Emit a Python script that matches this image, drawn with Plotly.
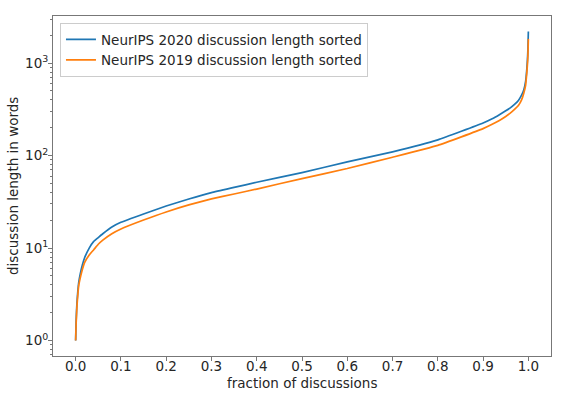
import plotly.graph_objects as go

# fraction of discussions (x) and sorted discussion length (y)
frac_2020 = [0.0, 0.001, 0.002, 0.003, 0.005, 0.007, 0.01, 0.015, 0.02, 0.03, 0.04, 0.05, 0.06,
             0.08, 0.1, 0.15, 0.2, 0.25, 0.3, 0.35, 0.4, 0.5, 0.6, 0.7, 0.8, 0.9, 0.92, 0.936,
             0.95, 0.96, 0.97, 0.978, 0.985, 0.99, 0.994, 0.9965, 0.998, 0.999, 1.0]
len_2020 = [1.0, 1.6, 2.1, 2.6, 3.5, 4.3, 5.2, 6.6, 7.9, 10.0, 11.8, 13.0, 14.3,
            16.9, 19.0, 23.4, 28.5, 34.0, 39.8, 45.3, 51.5, 65.5, 85.5, 110, 148, 225, 250, 277,
            305, 328, 360, 395, 450, 517, 640, 850, 1100, 1400, 2200]

frac_2019 = [0.0, 0.001, 0.002, 0.003, 0.005, 0.007, 0.01, 0.015, 0.02, 0.03, 0.04, 0.05, 0.06,
             0.08, 0.1, 0.15, 0.2, 0.25, 0.3, 0.35, 0.4, 0.5, 0.6, 0.7, 0.8, 0.9, 0.92, 0.936,
             0.95, 0.96, 0.97, 0.978, 0.985, 0.99, 0.994, 0.9965, 0.998, 0.999, 1.0]
len_2019 = [1.0, 1.5, 1.9, 2.4, 3.2, 4.0, 4.7, 5.9, 7.0, 8.4, 9.6, 11.0, 12.2,
            14.3, 16.1, 20.1, 24.6, 29.3, 34.0, 38.5, 43.5, 56.5, 72.5, 96, 129, 196, 218, 240,
            265, 288, 318, 348, 400, 476, 580, 780, 980, 1200, 1830]

x_ticks = [0.0, 0.1, 0.2, 0.3, 0.4, 0.5, 0.6, 0.7, 0.8, 0.9, 1.0]
x_tick_labels = ["0.0", "0.1", "0.2", "0.3", "0.4", "0.5", "0.6", "0.7", "0.8", "0.9", "1.0"]
y_ticks = [1, 10, 100, 1000]
y_tick_labels = ["10<sup>0</sup>", "10<sup>1</sup>", "10<sup>2</sup>", "10<sup>3</sup>"]
x_title = "fraction of discussions"
y_title = "discussion length in words"

font = "DejaVu Sans"
axis_color = "#777777"
text_color = "#262626"

fig = go.Figure()
fig.add_trace(go.Scatter(x=frac_2020, y=len_2020, mode="lines", line_shape="spline",
                         line_smoothing=0.4,
                         name="NeurIPS 2020 discussion length sorted",
                         line=dict(color="#1f77b4", width=1.7)))
fig.add_trace(go.Scatter(x=frac_2019, y=len_2019, mode="lines", line_shape="spline",
                         line_smoothing=0.4,
                         name="NeurIPS 2019 discussion length sorted",
                         line=dict(color="#ff7f0e", width=1.7)))

fig.update_layout(
    width=576, height=399,
    margin=dict(l=53, r=25, t=16, b=43),
    paper_bgcolor="white", plot_bgcolor="white",
    font=dict(family=font, size=13.5, color=text_color),
    showlegend=True,
    legend=dict(x=0.014, y=0.979, xanchor="left", yanchor="top",
                bgcolor="rgba(255,255,255,0.8)", bordercolor="#cccccc", borderwidth=1,
                font=dict(family=font, size=13.5, color=text_color),
                tracegroupgap=0, itemwidth=30),
    annotations=[
        dict(text=x_title, xref="paper", yref="paper", x=0.5, y=0, yshift=-27,
             xanchor="center", yanchor="middle", showarrow=False,
             font=dict(family=font, size=13.5, color=text_color)),
        dict(text=y_title, xref="paper", yref="paper", x=0, y=0.5, xshift=-40,
             xanchor="center", yanchor="middle", textangle=-90, showarrow=False,
             font=dict(family=font, size=13.5, color=text_color)),
    ],
)
fig.update_xaxes(
    range=[-0.05, 1.05], tickvals=x_ticks, ticktext=x_tick_labels,
    showgrid=False, zeroline=False, showline=True, mirror=True, automargin=False,
    linecolor=axis_color, linewidth=1, ticks="outside", ticklen=4, tickcolor=axis_color,
    tickfont=dict(size=13.5), ticklabelstandoff=-6,
)
fig.update_yaxes(
    type="log", range=[-0.167, 3.51], tickvals=y_ticks, ticktext=y_tick_labels,
    showgrid=False, zeroline=False, showline=True, mirror=True, automargin=False,
    linecolor=axis_color, linewidth=1, ticks="outside", ticklen=4, tickcolor=axis_color,
    minor=dict(ticks="outside", ticklen=2, tickcolor=axis_color, dtick="D1", showgrid=False),
    tickfont=dict(size=13.5), ticklabelstandoff=-3,
)

fig.write_html("out.html", config={"displayModeBar": False},
               post_script="document.body.style.margin='0px';")
